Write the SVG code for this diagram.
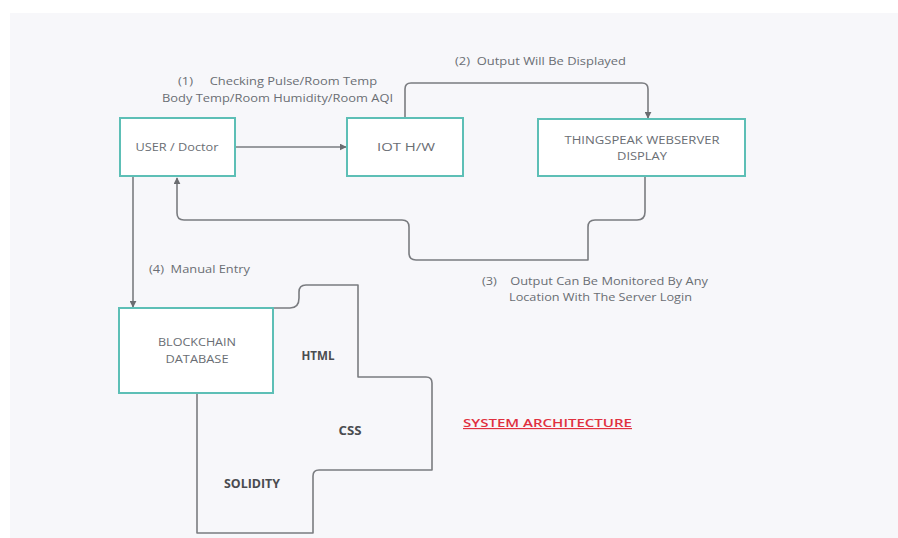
<svg xmlns="http://www.w3.org/2000/svg" width="898" height="538" viewBox="0 0 898 538">
<defs>
<style>
.node{fill:#ffffff;stroke:#5dbfb6;stroke-width:2}
.lbl{font-family:"Open Sans","Noto Sans","Liberation Sans",sans-serif;font-size:11.5px;fill:#6a6e74;text-anchor:middle}
.cap{font-family:"Open Sans","Noto Sans","Liberation Sans",sans-serif;font-size:11.5px;fill:#6a6e74}
.conn{fill:none;stroke:#7a7c80;stroke-width:1.6;stroke-linejoin:round}
.tech{font-family:"Open Sans","Noto Sans","Liberation Sans",sans-serif;font-size:11.5px;font-weight:bold;fill:#4a4c50;text-anchor:middle}
</style>
<marker id="arr" viewBox="0 0 10 10" refX="9" refY="5" markerWidth="7" markerHeight="7" markerUnits="userSpaceOnUse" orient="auto">
<path d="M0,0 L10,5 L0,10 z" fill="#6a6c70"/>
</marker>
</defs>
<rect x="0" y="0" width="898" height="538" fill="#ffffff"/>
<rect x="10" y="13" width="888" height="525" fill="#f7f7fa"/>

<g id="connectors">
<path class="conn" d="M235,147 H346" marker-end="url(#arr)"/>
<path class="conn" d="M405,118 V89 Q405,83 411,83 H642 Q648,83 648,89 V118" marker-end="url(#arr)"/>
<path class="conn" d="M645,176 V212 Q645,220 637,220 H595 Q588,220 588,227 V260 H416 Q409,260 409,253 V227 Q409,220 402,220 H184 Q177,220 177,213 V178" marker-end="url(#arr)"/>
<path class="conn" d="M133,176 V307" marker-end="url(#arr)"/>
<path class="conn" d="M233,308 H290 Q299,308 299,298 V292 Q299,285 306,285 H358 V377 H426 Q432,377 432,383 V470 H319 Q313,470 313,476 V533 H197 V393"/>
</g>

<g id="user">
<rect class="node" x="120" y="118" width="115" height="58"/>
<text class="lbl" x="177" y="151" textLength="83" lengthAdjust="spacingAndGlyphs">USER / Doctor</text>
</g>
<g id="iot">
<rect class="node" x="347" y="118" width="116" height="58"/>
<text class="lbl" x="406" y="151" textLength="58" lengthAdjust="spacingAndGlyphs">IOT H/W</text>
</g>
<g id="thingspeak">
<rect class="node" x="538" y="119" width="207" height="57"/>
<text class="lbl" x="642" y="144" textLength="155" lengthAdjust="spacingAndGlyphs">THINGSPEAK WEBSERVER</text>
<text class="lbl" x="642" y="160" textLength="50" lengthAdjust="spacingAndGlyphs">DISPLAY</text>
</g>
<g id="blockchain">
<rect class="node" x="119" y="308" width="154" height="85"/>
<text class="lbl" x="197" y="346" textLength="78" lengthAdjust="spacingAndGlyphs">BLOCKCHAIN</text>
<text class="lbl" x="197" y="363" textLength="63" lengthAdjust="spacingAndGlyphs">DATABASE</text>
</g>

<g id="labels">
<text class="cap" x="178" y="85" xml:space="preserve" textLength="199" lengthAdjust="spacingAndGlyphs">(1)     Checking Pulse/Room Temp</text>
<text class="cap" x="162" y="102" textLength="231" lengthAdjust="spacingAndGlyphs">Body Temp/Room Humidity/Room AQI</text>
<text class="cap" x="455" y="65" xml:space="preserve" textLength="171" lengthAdjust="spacingAndGlyphs">(2)  Output Will Be Displayed</text>
<text class="cap" x="482" y="285" xml:space="preserve" textLength="226" lengthAdjust="spacingAndGlyphs">(3)    Output Can Be Monitored By Any</text>
<text class="cap" x="509" y="301" textLength="183" lengthAdjust="spacingAndGlyphs">Location With The Server Login</text>
<text class="cap" x="149" y="273" xml:space="preserve" textLength="101" lengthAdjust="spacingAndGlyphs">(4)  Manual Entry</text>
</g>

<g id="tech">
<text class="tech" x="318" y="360" textLength="33" lengthAdjust="spacingAndGlyphs">HTML</text>
<text class="tech" x="350" y="435" textLength="23" lengthAdjust="spacingAndGlyphs">CSS</text>
<text class="tech" x="252" y="488" textLength="56" lengthAdjust="spacingAndGlyphs">SOLIDITY</text>
</g>

<g id="title">
<text x="463" y="427" font-family="'Open Sans','Noto Sans','Liberation Sans',sans-serif" font-size="11.5" font-weight="600" fill="#e0303f" text-decoration="underline" textLength="169" lengthAdjust="spacingAndGlyphs">SYSTEM ARCHITECTURE</text>
</g>
</svg>
